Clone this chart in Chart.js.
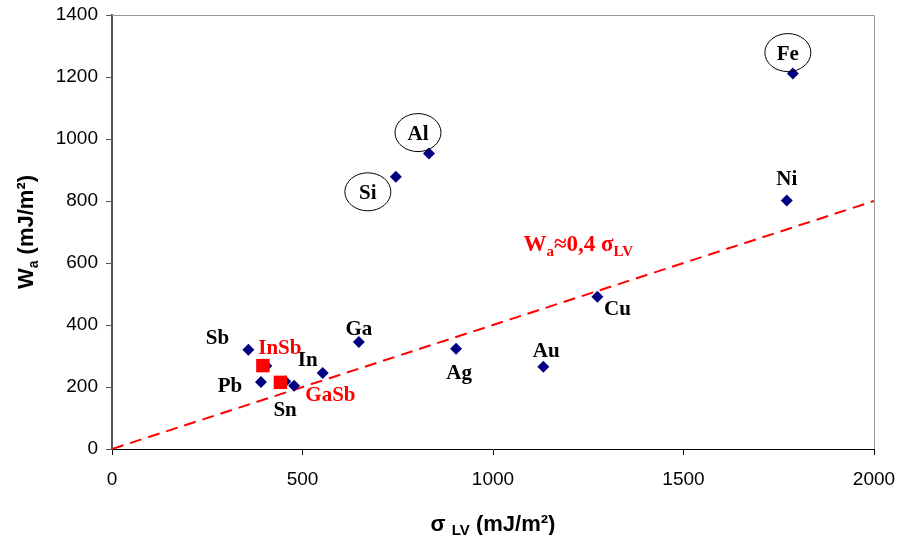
<!DOCTYPE html>
<html>
<head>
<meta charset="utf-8">
<script src="https://cdn.jsdelivr.net/npm/chart.js@4.4.0/dist/chart.umd.min.js"></script>
<style>
  html, body { margin: 0; padding: 0; background: #fff; }
</style>
</head>
<body>
<canvas id="chart" width="899" height="535"></canvas>
<script>
// metals (blue diamonds)
const metalNames = ['Sb', 'Pb', '', '', 'Sn', 'In', 'Ga', 'Ag', 'Au', 'Cu', 'Ni', 'Fe', 'Al', 'Si'];
const metalSigma = [358, 391, 405, 455, 478, 553, 648, 903, 1132, 1274, 1771, 1787, 832, 745];
const metalWa    = [320, 216, 268, 218, 204, 245, 345, 323, 265, 491, 802, 1211, 953, 878];

// compounds (red squares)
const compoundNames = ['InSb', 'GaSb'];
const compoundSigma = [396, 442];
const compoundWa    = [269, 215];

// fit line Wa = 0.4 * sigma
const fitSigma = [0, 2000];
const fitWa    = [0, 800];

const xTicks = [0, 500, 1000, 1500, 2000];
const yTicks = [0, 200, 400, 600, 800, 1000, 1200, 1400];

// label offsets in pixels from the point [dx, dy, circled]
const metalLabelPos = {
  Sb: [-31, -11], Pb: [-31, 5], Sn: [-9, 25], In: [-15, -12], Ga: [0, -12],
  Ag: [3, 25], Au: [3, -15], Cu: [20, 13], Ni: [0, -21],
  Fe: [-5, -19, true], Al: [-11, -19, true], Si: [-28, 17, true]
};
const compoundLabelPos = { InSb: [17, -17], GaSb: [50, 13] };

const toPts = (xs, ys) => xs.map((x, i) => ({ x: x, y: ys[i] }));

const labelPlugin = {
  id: 'pointLabels',
  beforeDatasetsDraw(chart) {
    // light grey frame on top and right of the plot area
    const a = chart.chartArea, ctx = chart.ctx;
    ctx.save();
    ctx.strokeStyle = '#999';
    ctx.lineWidth = 1;
    ctx.beginPath();
    ctx.moveTo(a.left, a.top + 0.5);
    ctx.lineTo(a.right + 0.5, a.top + 0.5);
    ctx.lineTo(a.right + 0.5, a.bottom);
    ctx.stroke();
    ctx.restore();
  },
  afterDatasetsDraw(chart) {
    const ctx = chart.ctx;
    const xs = chart.scales.x, ys = chart.scales.y;
    ctx.save();
    ctx.textAlign = 'center';
    ctx.textBaseline = 'middle';
    ctx.font = 'bold 21px "Liberation Serif", "Times New Roman", serif';
    ctx.fillStyle = '#000';
    metalNames.forEach((n, i) => {
      const p = metalLabelPos[n];
      if (!p) return;
      const px = xs.getPixelForValue(metalSigma[i]) + p[0];
      const py = ys.getPixelForValue(metalWa[i]) + p[1];
      if (p[2]) {
        ctx.beginPath();
        ctx.ellipse(px, py - 2, 23, 19, 0, 0, Math.PI * 2);
        ctx.strokeStyle = '#000';
        ctx.lineWidth = 1;
        ctx.stroke();
      }
      ctx.fillText(n, px, py);
    });
    ctx.fillStyle = '#ff0000';
    compoundNames.forEach((n, i) => {
      const p = compoundLabelPos[n];
      const px = xs.getPixelForValue(compoundSigma[i]) + p[0];
      const py = ys.getPixelForValue(compoundWa[i]) + p[1];
      ctx.fillText(n, px, py);
    });

    // fit formula
    const fx = xs.getPixelForValue(1080), fy = ys.getPixelForValue(640);
    ctx.textAlign = 'left';
    ctx.textBaseline = 'alphabetic';
    let x = fx;
    ctx.font = 'bold 23px "Liberation Serif", serif';
    ctx.fillText('W', x, fy); x += ctx.measureText('W').width;
    ctx.font = 'bold 15px "Liberation Serif", serif';
    ctx.fillText('a', x, fy + 5); x += ctx.measureText('a').width;
    ctx.font = 'bold 23px "Liberation Serif", serif';
    ctx.fillText('\u22480,4 \u03c3', x, fy); x += ctx.measureText('\u22480,4 \u03c3').width;
    ctx.font = 'bold 15px "Liberation Serif", serif';
    ctx.fillText('LV', x, fy + 5);

    // axis titles
    ctx.fillStyle = '#000';
    ctx.save();
    ctx.translate(25, 232);
    ctx.rotate(-Math.PI / 2);
    ctx.textAlign = 'left';
    const sans = '"Liberation Sans", Arial, sans-serif';
    const parts = [['W', 'bold 22px ' + sans, 0], ['a', 'bold 14px ' + sans, 5], [' (mJ/m\u00b2)', 'bold 22px ' + sans, 0]];
    let w = 0;
    parts.forEach(p => { ctx.font = p[1]; w += ctx.measureText(p[0]).width; });
    let cx = -w / 2;
    parts.forEach(p => { ctx.font = p[1]; ctx.fillText(p[0], cx, 8 + p[2]); cx += ctx.measureText(p[0]).width; });
    ctx.restore();

    const xparts = [['\u03c3 ', 'bold 22px ' + sans, 0], ['LV', 'bold 15px ' + sans, 4], [' (mJ/m\u00b2)', 'bold 22px ' + sans, 0]];
    w = 0;
    xparts.forEach(p => { ctx.font = p[1]; w += ctx.measureText(p[0]).width; });
    cx = 493 - w / 2;
    xparts.forEach(p => { ctx.font = p[1]; ctx.fillText(p[0], cx, 531 + p[2]); cx += ctx.measureText(p[0]).width; });
    ctx.restore();
  }
};

new Chart(document.getElementById('chart'), {
  type: 'scatter',
  data: {
    datasets: [
      {
        type: 'line',
        data: toPts(fitSigma, fitWa),
        borderColor: '#ff0000',
        borderWidth: 2,
        borderDash: [12, 7],
        pointRadius: 0,
        fill: false,
        order: 3
      },
      {
        data: toPts(metalSigma, metalWa),
        pointStyle: 'rectRot',
        pointRadius: 6,
        backgroundColor: '#000080',
        borderColor: '#000080',
        borderWidth: 0,
        order: 2
      },
      {
        data: toPts(compoundSigma, compoundWa),
        pointStyle: 'rect',
        pointRadius: 9.5,
        backgroundColor: '#ff0000',
        borderColor: '#ff0000',
        borderWidth: 0,
        order: 1
      }
    ]
  },
  options: {
    responsive: false,
    animation: false,
    devicePixelRatio: 1,
    layout: { padding: { top: 15, right: 25, left: 0, bottom: 0 } },
    plugins: { legend: { display: false }, tooltip: { enabled: false } },
    scales: {
      x: {
        type: 'linear',
        min: 0, max: 2000,
        afterBuildTicks: s => { s.ticks = xTicks.map(v => ({ value: v })); },
        afterFit: s => { s.height = 86; s.paddingLeft = 0; s.paddingRight = 0; },
        grid: { drawOnChartArea: false, drawTicks: true, tickLength: 6, color: '#000' },
        border: { display: true, color: '#000', width: 1 },
        ticks: { color: '#000', padding: 13, maxRotation: 0, callback: v => String(v), font: { family: '"Liberation Sans", Arial, sans-serif', size: 19 } }
      },
      y: {
        type: 'linear',
        min: 0, max: 1400,
        afterBuildTicks: s => { s.ticks = yTicks.map(v => ({ value: v })); },
        afterFit: s => { s.width = 112; s.paddingTop = 0; s.paddingBottom = 0; },
        grid: { drawOnChartArea: false, drawTicks: true, tickLength: 6, color: '#555' },
        border: { display: true, color: '#555', width: 2 },
        ticks: { color: '#000', padding: 8, callback: v => String(v), font: { family: '"Liberation Sans", Arial, sans-serif', size: 19 } }
      }
    }
  },
  plugins: [labelPlugin]
});
</script>
</body>
</html>
